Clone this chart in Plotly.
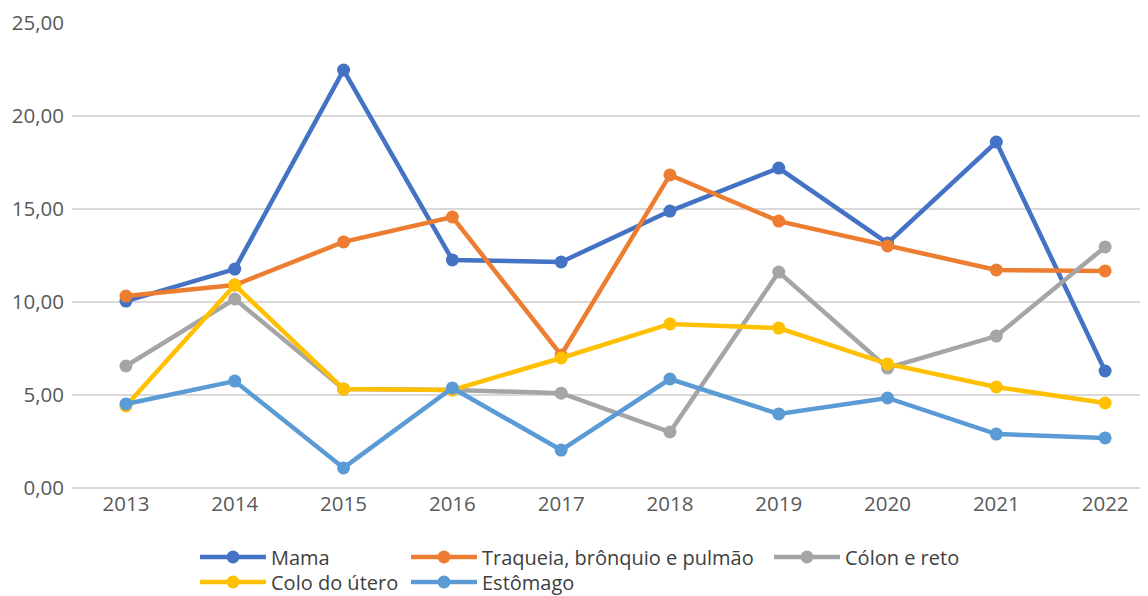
import plotly.graph_objects as go

years = ["2013", "2014", "2015", "2016", "2017", "2018", "2019", "2020", "2021", "2022"]

mama = [10.05, 11.77, 22.47, 12.26, 12.15, 14.89, 17.20, 13.17, 18.60, 6.29]
traqueia = [10.32, 10.91, 13.23, 14.57, 7.15, 16.83, 14.35, 13.01, 11.72, 11.67]
colon = [6.56, 10.16, 5.32, 5.27, 5.10, 3.01, 11.61, 6.45, 8.17, 12.96]
colo_utero = [4.41, 10.91, 5.32, 5.27, 6.99, 8.82, 8.60, 6.67, 5.43, 4.57]
estomago = [4.52, 5.75, 1.08, 5.38, 2.04, 5.86, 3.98, 4.84, 2.90, 2.69]

series_names = ["Mama", "Traqueia, brônquio e pulmão", "Cólon e reto", "Colo do útero", "Estômago"]
series_values = [mama, traqueia, colon, colo_utero, estomago]
colors = ["#4472C4", "#ED7D31", "#A5A5A5", "#FFC000", "#5B9BD5"]
legend_ids = ["legend", "legend2", "legend3", "legend4", "legend5"]

FONT = "'Open Sans', 'Noto Sans', sans-serif"
W, H = 1140, 588  # page body adds an 8px margin

fig = go.Figure()
for name, vals, col, lg in zip(series_names, series_values, colors, legend_ids):
    fig.add_trace(go.Scatter(
        x=years, y=vals, name=name, mode="lines+markers",
        line=dict(color=col, width=4.5),
        marker=dict(color=col, size=13),
        legend=lg,
    ))

# legend positions (figure pixel coordinates)
row1, row2 = 549, 574
leg_pos = {
    "legend": (187, row1),
    "legend2": (398, row1),
    "legend3": (761, row1),
    "legend4": (187, row2),
    "legend5": (398, row2),
}
legend_layout = {}
for lg, (px, py) in leg_pos.items():
    legend_layout[lg] = dict(
        x=px / W, y=1 - py / H, xref="container", yref="container",
        xanchor="left", yanchor="middle",
        orientation="h", bgcolor="rgba(0,0,0,0)",
        font=dict(family=FONT, size=20, color="#404040"),
        itemwidth=66, borderwidth=0, tracegroupgap=0,
    )

fig.update_layout(
    width=W, height=H,
    margin=dict(l=64, r=0, t=15, b=108),
    paper_bgcolor="white", plot_bgcolor="white",
    separators=",.",
    showlegend=True,
    font=dict(family=FONT, size=20, color="#595959"),
    **legend_layout,
)
fig.update_xaxes(
    type="category", range=[-0.496, 9.394],
    showgrid=False, showline=False, zeroline=False,
    tickfont=dict(family=FONT, size=20.5, color="#595959"),
    ticks="", ticklabelstandoff=1,
)
fig.update_yaxes(
    range=[0, 25], dtick=5, tickformat=".2f",
    showgrid=True, gridcolor="#D9D9D9", gridwidth=1.5,
    zeroline=True, zerolinecolor="#D9D9D9", zerolinewidth=1.5,
    showline=False, ticks="",
    tickfont=dict(family=FONT, size=20.5, color="#595959"),
    ticklabelstandoff=7,
)

fig.write_html("out.html")
